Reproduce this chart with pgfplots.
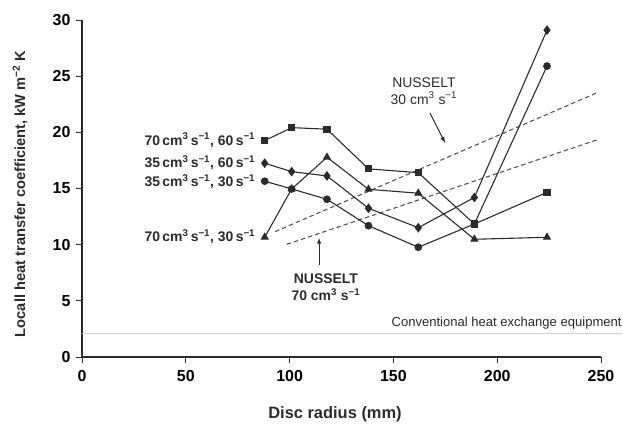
\documentclass[border=0pt]{standalone}
\usepackage{fontspec}
\setmainfont{Liberation Sans}
\usepackage{pgfplots}
\pgfplotsset{compat=1.18}
\definecolor{ln}{HTML}{2B2B2B}
\definecolor{dsh}{HTML}{555555}
\definecolor{conv}{HTML}{CFCFCF}
\begin{document}
\begin{tikzpicture}
\begin{axis}[
  scale only axis, width=519bp, height=337bp,
  xmin=0, xmax=250, ymin=0, ymax=30,
  axis lines=left, axis line style={-, color=ln, line width=1.1pt},
  xtick={0,50,...,250}, ytick={0,5,...,30},
  tick style={color=ln, line width=1pt},
  tick align=outside, major tick length=6bp,
  /pgf/number format/assume math mode=true,
  tick label style={font=\fontsize{16}{18}\selectfont\bfseries},
  xticklabel style={yshift=-4bp},
  yticklabel style={xshift=-2bp},
  xlabel={Disc radius (mm)},
  ylabel={Locall heat transfer coefficient, kW m\textsuperscript{−2} K},
  every axis x label/.style={at={(axis description cs:0.4875,-0.169)}, anchor=center, font=\fontsize{16.5}{18}\selectfont\bfseries, text=ln},
  every axis y label/.style={at={(axis description cs:-0.1195,0.484)}, anchor=center, rotate=90, font=\fontsize{14.7}{16}\selectfont\bfseries, text=ln},
  clip=false,
]
% conventional equipment line
\addplot[conv, line width=1pt, forget plot] coordinates {(0,2.05) (260,2.05)};
\node[anchor=south east, inner sep=1bp, font=\fontsize{13.1}{15}\selectfont, text=ln] at (axis cs:260.5,2.35) {Conventional heat exchange equipment};
% Nusselt lines
\addplot[dsh, dashed, dash pattern=on 4.5bp off 3bp, line width=1.1pt] coordinates {(93,11.16) (248.7,23.57)};
\addplot[dsh, dashed, dash pattern=on 4.5bp off 3bp, line width=1.1pt] coordinates {(98.6,10.03) (247.9,19.32)};
% 70 cm3/s, 60 s-1 squares
\addplot[ln, line width=1.1pt, mark=square*, mark size=3pt, mark options={solid, fill=ln}] coordinates {
(88,19.26) (101,20.42) (118,20.28) (138,16.75) (162,16.41) (189,11.84) (224,14.66)};
% 35, 60 diamonds
\addplot[ln, line width=1.1pt, mark=diamond*, mark size=4pt, mark options={solid, fill=ln}] coordinates {
(88,17.25) (101,16.5) (118,16.12) (138,13.24) (162,11.51) (189,14.2) (224,29.1)};
% 35, 30 circles
\addplot[ln, line width=1.1pt, mark=*, mark size=3.3pt, mark options={solid, fill=ln}] coordinates {
(88,15.65) (101,14.96) (118,14.04) (138,11.69) (162,9.77) (189,11.84) (224,25.9)};
% 70, 30 triangles
\addplot[ln, line width=1.1pt, mark=triangle*, mark size=3.8pt, mark options={solid, fill=ln}] coordinates {
(88,10.66) (101,14.96) (118,17.78) (138,14.93) (162,14.58) (189,10.48) (224,10.66)};
% series labels
\begin{scope}[every node/.style={anchor=east, inner sep=0pt, font=\fontsize{14}{16}\selectfont\bfseries, text=ln}]
\node at (axis cs:83.5,19.3) {70\,cm\textsuperscript{3}\,s\textsuperscript{−1}, 60\,s\textsuperscript{−1}};
\node at (axis cs:83.5,17.3) {35\,cm\textsuperscript{3}\,s\textsuperscript{−1}, 60\,s\textsuperscript{−1}};
\node at (axis cs:83.5,15.6) {35\,cm\textsuperscript{3}\,s\textsuperscript{−1}, 30\,s\textsuperscript{−1}};
\node at (axis cs:83.5,10.7) {70\,cm\textsuperscript{3}\,s\textsuperscript{−1}, 30\,s\textsuperscript{−1}};
\end{scope}
% Nusselt annotations
\node[align=center, inner sep=0pt, font=\fontsize{14}{17}\selectfont, text=ln] at (axis cs:164.7,23.7) {NUSSELT\\30 cm\textsuperscript{3} s\textsuperscript{−1}};
\draw[ln, line width=1pt, -latex] (axis cs:167.6,21.73) -- (axis cs:174.9,19.06);
\node[align=center, inner sep=0pt, font=\fontsize{14}{17}\selectfont\bfseries, text=ln] at (axis cs:117.5,6.23) {NUSSELT\\70 cm\textsuperscript{3} s\textsuperscript{−1}};
\draw[ln, line width=1pt, -latex] (axis cs:114.2,8.19) -- (axis cs:114.2,10.6);
\end{axis}
\useasboundingbox (-82bp,-64bp) rectangle (541bp,357bp);
\end{tikzpicture}
\end{document}
